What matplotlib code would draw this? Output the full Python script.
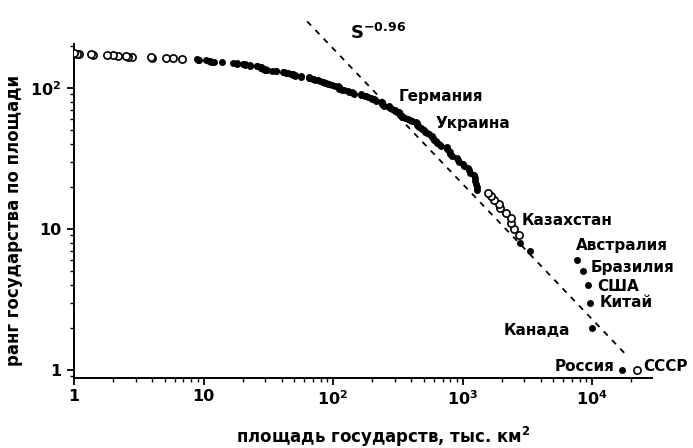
import numpy as np
import matplotlib
matplotlib.use("Agg")
import matplotlib.pyplot as plt
from matplotlib.ticker import FixedLocator, LogLocator, NullFormatter

plt.rcParams["font.family"] = ["DejaVu Sans"]
plt.rcParams["font.weight"] = "bold"
plt.rcParams["mathtext.default"] = "bf"

# площадь государств, тыс. км2 (по убыванию; ранг = номер в списке)
area = [
    17075, 9976, 9597, 9373, 8512, 7687, 3288, 2780, 2717, 2506,
    2382, 2345, 2150, 1958, 1905, 1760, 1648, 1567, 1285, 1284,
    1267, 1247, 1240, 1221, 1139, 1128, 1099, 1031, 1001, 945,
    924, 912, 824, 802, 796, 781, 757, 753, 677, 652,
    638, 623, 604, 587, 582, 580, 552, 528, 513, 505,
    488, 475, 463, 450, 447, 447, 438, 407, 391, 378,
    357, 342, 338, 330, 330, 324, 322, 313, 301, 300,
    284, 274, 271, 268, 246, 244, 239, 238, 237, 236,
    215, 212, 208, 199, 197, 185, 181, 176, 164, 163,
    144, 143, 141, 132, 130, 121, 118, 113, 112, 111,
    111, 111, 109, 103, 99, 93, 92, 89, 87, 84,
    84, 79, 76, 72, 70, 70, 66, 65, 65, 57,
    57, 51, 51, 49, 49, 47, 45, 43, 42, 41,
    36, 36, 34, 31, 30, 30, 29, 28, 28, 28,
    28, 26, 26, 23, 23, 21, 21, 20, 18, 18,
    17, 14, 12, 11.4, 11.3, 11.0, 10.4, 9.3, 9.1, 8.9,
    6.8, 5.8, 5.1, 4.0, 3.9, 2.8, 2.6, 2.5, 2.2, 2.0,
    1.8, 1.4, 1.35, 1.1, 1.05, 1.0,
]
rank = np.arange(1, len(area) + 1)
# ранги, показанные светлыми кружками
open_ranks = list(range(9, 19)) + list(range(161, len(area) + 1))

ussr_area = 22400
ussr_rank = 1

labels = ["Германия", "Украина", "Казахстан", "Австралия", "Бразилия",
          "США", "Китай", "Канада", "Россия", "СССР"]
label_x = [318, 614, 2880, 7520, 9660, 10930, 11530, 6760, 14790, 24770]
label_y = [86.3, 55.6, 11.4, 7.7, 5.37, 3.88, 2.99, 1.92, 1.067, 1.067]
label_ha = ["left"] * 7 + ["right", "right", "left"]

slope = -0.96
line_logc = 4.2
line_range = [10 ** 1.80, 10 ** 4.26]

area = np.array(area, dtype=float)
is_open = np.isin(rank, open_ranks)

fig = plt.figure(figsize=(6.93, 4.48), dpi=100)
ax = fig.add_axes([74 / 693, 70 / 448, 578 / 693, 334 / 448])

ax.plot(area[~is_open], rank[~is_open], "o", color="black", ms=5,
        mew=0, zorder=3)
ax.plot(area[is_open], rank[is_open], "o", mfc="white", mec="black",
        ms=5.2, mew=1.2, zorder=3)
ax.plot([ussr_area], [ussr_rank], "o", mfc="white", mec="black",
        ms=5.2, mew=1.2, zorder=3, clip_on=False)

s = np.array(line_range)
ax.plot(s, 10 ** line_logc * s ** slope, color="black", lw=1.3,
        ls=(0, (3.2, 3.4)), clip_on=False, zorder=2)
ax.text(134, 245, r"$S^{-0.96}$", fontsize=13, ha="left", va="center")

for t, x, y, ha in zip(labels, label_x, label_y, label_ha):
    ax.text(x, y, t, fontsize=11, fontweight="bold", ha=ha, va="center")

ax.set_xscale("log")
ax.set_yscale("log")
ax.set_xlim(1, 2.9e4)
ax.set_ylim(0.878, 205)

ax.xaxis.set_major_locator(FixedLocator([1, 10, 100, 1000, 10000]))
ax.set_xticklabels(["1", "10", "$10^{2}$", "$10^{3}$", "$10^{4}$"])
ax.yaxis.set_major_locator(FixedLocator([1, 10, 100]))
ax.set_yticklabels(["1", "10", "$10^{2}$"])
ax.xaxis.set_minor_locator(LogLocator(base=10, subs=np.arange(2, 10)))
ax.yaxis.set_minor_locator(LogLocator(base=10, subs=np.arange(2, 10)))
ax.xaxis.set_minor_formatter(NullFormatter())
ax.yaxis.set_minor_formatter(NullFormatter())

ax.tick_params(which="major", length=5, width=1.3, labelsize=11.5, pad=3)
ax.tick_params(which="minor", length=3, width=1.0)
ax.tick_params(axis="y", which="major", pad=4)

for side in ["top", "right"]:
    ax.spines[side].set_visible(False)
for side in ["left", "bottom"]:
    ax.spines[side].set_linewidth(1.4)

fig.text(383 / 693, 1 - 437 / 448, "площадь государств, тыс. км$^{2}$",
         fontsize=12, fontweight="bold", ha="center", va="center")
fig.text(14 / 693, 1 - 220 / 448, "ранг государства по площади",
         fontsize=12, fontweight="bold", ha="center", va="center",
         rotation=90)

fig.savefig("out.png", dpi=100)
